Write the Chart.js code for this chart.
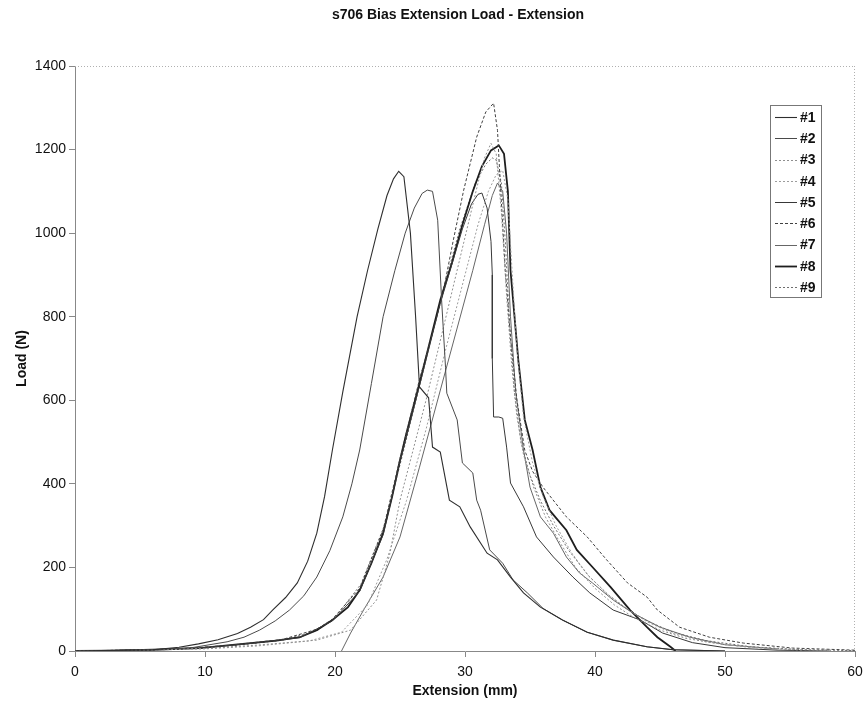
<!DOCTYPE html>
<html><head><meta charset="utf-8">
<script src="https://cdn.jsdelivr.net/npm/chart.js@4.4.0/dist/chart.umd.min.js"></script>
<style>html,body{margin:0;padding:0;background:#fff}#wrap{width:864px;height:709px;position:relative}</style>
</head><body><div id="wrap"><canvas id="c" width="864" height="709"></canvas></div>
<script>
// ---- data (Extension mm, Load N) ----
const chartTitle = 's706 Bias Extension Load - Extension';
const xTitle = 'Extension (mm)';
const yTitle = 'Load (N)';
const xTicks = [0,10,20,30,40,50,60];
const yTicks = [0,200,400,600,800,1000,1200,1400];
const seriesLabels = ['#1','#2','#3','#4','#5','#6','#7','#8','#9'];

const s1x = [0,2,4,6,8,9.5,11,12.5,13.5,14.5,15.2,16.2,17.1,17.9,18.6,19.2,19.8,20.6,21.7,22.5,23.3,24,24.5,24.9,25.3,25.8,26.2,26.5,27.2,27.5,28.1,28.8,29.6,30.4,31.7,32.5,33.5,34.5,35.8,37.5,39.4,41.4,44,46,50];
const s1y = [0,1,2,3,9,17,27,42,57,75,98,128,163,215,282,370,481,620,800,910,1010,1090,1130,1148,1135,1000,800,632,606,488,476,361,345,297,234,218,177,139,105,74,45,26,10,3,0];

const s2x = [0,3,6,9,11.7,13,14.2,15.4,16.5,17.6,18.6,19.6,20.6,21.3,21.9,22.8,23.7,24.6,25.4,26.1,26.7,27.1,27.5,27.9,28.2,28.5,28.6,29.4,29.8,30.6,30.9,31.2,31.9,32.9,33.7,34.8,36,37.5,39.4,41.4,44,46,50];
const s2y = [0,1,3,8,22,33,50,72,98,132,177,240,321,400,481,640,800,910,1000,1060,1095,1103,1100,1031,840,679,617,553,450,426,361,337,242,210,170,139,102,74,45,26,10,3,0];

const s3x = [0,5,10,14,18.6,21.2,23.2,24.2,25,26,27,28,29,30,31,31.5,32,32.4,32.8,33.2,33.6,34,34.5,35.3,36.2,37.3,38.5,40,41.5,43,45,47,50,54,58];
const s3y = [0,2,6,14,26,50,122,230,361,480,600,730,860,990,1120,1180,1215,1190,1050,850,680,560,470,390,320,260,200,150,110,80,50,30,15,5,1];

const s4x = [0,5,10,14,18,20.5,22.5,24,25.5,27,28.5,30,31,31.8,32.4,32.9,33.3,33.6,34,34.5,35.2,36,37,38.2,39.5,41,42.5,44,46,48.5,52,56];
const s4y = [0,2,5,12,24,45,110,220,360,530,720,900,1020,1100,1140,1150,1080,920,720,560,450,370,300,235,180,135,100,70,42,22,8,2];

const s5x = [0,3,6,9.6,13.5,17.3,19.8,21.9,23.7,25,26.5,28.1,29.8,30.5,31,31.3,31.7,32,32.1,32.1,32.2,32.6,32.9,33.2,33.5,34.5,35.5,36.8,38.3,39.6,41.4,43.5,45.2,47.5,50,54,58];
const s5y = [0,1,3,7,18,32,72,143,278,452,635,832,1010,1070,1093,1096,1060,980,900,700,560,560,557,488,402,345,273,225,177,139,98,74,43,20,8,2,0];

const s6x = [0,4,8,12,16,18.6,19.8,21.9,23.7,25,26.5,27.5,28.3,29.1,29.9,30.9,31.6,32.2,32.5,32.7,33.1,33.5,34,34.6,35.2,36,37.8,39.4,40.9,42.5,44,44.8,46.5,48.8,51.4,55.2,60];
const s6y = [0,2,5,14,28,52,76,150,290,460,650,760,856,983,1103,1230,1290,1311,1246,1127,911,750,600,480,430,392,321,273,218,163,129,98,57,33,19,7,2];

const s7x = [20.5,21.2,22.2,23.7,25,26.5,28.5,30.6,31.5,32.1,32.5,32.9,33.2,33.5,33.9,34.5,35,35.8,36.8,37.8,38.8,39.8,41.4,42.9,45,47.3,50,54];
const s7y = [0,43,98,177,273,440,670,911,1020,1090,1120,1100,1000,800,620,481,392,321,282,225,187,163,122,91,57,33,15,5];

const s8x = [0,3,6,9.6,13.5,15.5,17.3,18.6,19.8,21,21.9,22.8,23.7,24.4,25,25.5,26.5,27.3,28.1,29,29.8,30.6,31.3,32,32.6,33,33.3,33.5,34.1,34.6,35.2,35.8,36.5,37.8,38.6,39.8,41.2,42.7,44,44.8,45.8,46.2];
const s8y = [0,1,3,7,19,25,33,50,74,105,146,210,282,370,457,522,641,740,840,930,1020,1100,1160,1198,1210,1190,1100,911,696,553,481,392,337,289,242,201,153,98,57,33,10,0];

const s9x = [0,4,8,12,16,18.6,20,22,23.8,25.2,26.7,28.2,29.6,30.8,31.6,32.1,32.4,32.8,33.1,33.4,33.8,34.3,35,35.8,36.8,38,39.5,41,42.5,44,46,48.5,52,56,60];
const s9y = [0,2,4,12,26,48,80,160,300,470,660,850,1010,1120,1165,1180,1175,1120,980,800,620,500,420,360,300,240,180,135,100,72,45,25,10,3,1];

const allX = [s1x,s2x,s3x,s4x,s5x,s6x,s7x,s8x,s9x];
const allY = [s1y,s2y,s3y,s4y,s5y,s6y,s7y,s8y,s9y];

// ---- styles ----
const styles = [
  {c:'#2e2e2e', w:1.1, d:[]},
  {c:'#4a4a4a', w:1,   d:[]},
  {c:'#8f8f8f', w:1,   d:[2,2]},
  {c:'#9c9c9c', w:1,   d:[2,2]},
  {c:'#383838', w:1,   d:[]},
  {c:'#404040', w:1,   d:[3,2]},
  {c:'#666666', w:1,   d:[]},
  {c:'#1e1e1e', w:1.8, d:[]},
  {c:'#6e6e6e', w:1,   d:[2,2]}
];

const FONT = '"Liberation Sans", Arial, sans-serif';

const datasets = seriesLabels.map((lab,i)=>({
  label: lab,
  data: allX[i].map((x,k)=>({x:x, y:allY[i][k]})),
  showLine: true,
  borderColor: styles[i].c,
  borderWidth: styles[i].w,
  borderDash: styles[i].d,
  pointRadius: 0,
  fill: false,
  tension: 0
}));

const decor = {
  id: 'decor',
  afterDraw(chart) {
    const ctx = chart.ctx, a = chart.chartArea;
    ctx.save();
    // top & right dotted borders
    ctx.strokeStyle = '#b0b0b0'; ctx.lineWidth = 1; ctx.setLineDash([1,2]);
    ctx.beginPath();
    ctx.moveTo(a.left, a.top + 0.5); ctx.lineTo(a.right, a.top + 0.5);
    ctx.moveTo(a.right - 0.5, a.top); ctx.lineTo(a.right - 0.5, a.bottom);
    ctx.stroke();
    ctx.setLineDash([]);
    // titles
    ctx.fillStyle = '#111';
    ctx.textAlign = 'center'; ctx.textBaseline = 'middle';
    ctx.font = 'bold 14px ' + FONT;
    ctx.fillText(chartTitle, 458, 15);
    ctx.font = 'bold 14px ' + FONT;
    ctx.fillText(xTitle, (a.left + a.right)/2, 691);
    ctx.save();
    ctx.translate(22, (a.top + a.bottom)/2);
    ctx.rotate(-Math.PI/2);
    ctx.fillText(yTitle, 0, 0);
    ctx.restore();
    // legend box
    const bx = 770, by = 105, bw = 51, bh = 192;
    ctx.fillStyle = '#fff';
    ctx.fillRect(bx, by, bw, bh);
    ctx.strokeStyle = '#777'; ctx.lineWidth = 1;
    ctx.strokeRect(bx + 0.5, by + 0.5, bw, bh);
    ctx.font = 'bold 14px ' + FONT;
    ctx.textAlign = 'left';
    chart.data.datasets.forEach((ds, i) => {
      const yy = 117 + i * 21.25;
      ctx.strokeStyle = ds.borderColor;
      ctx.lineWidth = ds.borderWidth;
      ctx.setLineDash(ds.borderDash || []);
      ctx.beginPath();
      ctx.moveTo(775, Math.round(yy) + 0.5); ctx.lineTo(797, Math.round(yy) + 0.5);
      ctx.stroke();
      ctx.setLineDash([]);
      ctx.fillStyle = '#111';
      ctx.fillText(ds.label, 800, yy + 1);
    });
    ctx.restore();
  }
};

new Chart(document.getElementById('c'), {
  type: 'scatter',
  data: { datasets },
  options: {
    responsive: false,
    animation: false,
    devicePixelRatio: 1,
    layout: { padding: { top: 66, right: 9, left: 0, bottom: 0 } },
    plugins: { legend: { display: false }, title: { display: false }, tooltip: { enabled: false } },
    scales: {
      x: {
        type: 'linear', min: 0, max: 60,
        afterBuildTicks: s => { s.ticks = xTicks.map(v => ({ value: v })); },
        afterFit: s => { s.height = 58; s.paddingLeft = 0; s.paddingRight = 0; },
        ticks: { color: '#111', font: { family: FONT, size: 14 }, padding: 7, maxRotation: 0, callback: v => String(v) },
        grid: { drawOnChartArea: false, tickLength: 6, color: '#888' },
        border: { color: '#888', width: 1 }
      },
      y: {
        type: 'linear', min: 0, max: 1400,
        afterBuildTicks: s => { s.ticks = yTicks.map(v => ({ value: v })); },
        afterFit: s => { s.width = 75; },
        ticks: { color: '#111', font: { family: FONT, size: 14 }, padding: 3, callback: v => String(v) },
        grid: { drawOnChartArea: false, tickLength: 6, color: '#888' },
        border: { color: '#888', width: 1 }
      }
    }
  },
  plugins: [decor]
});
</script></body></html>
